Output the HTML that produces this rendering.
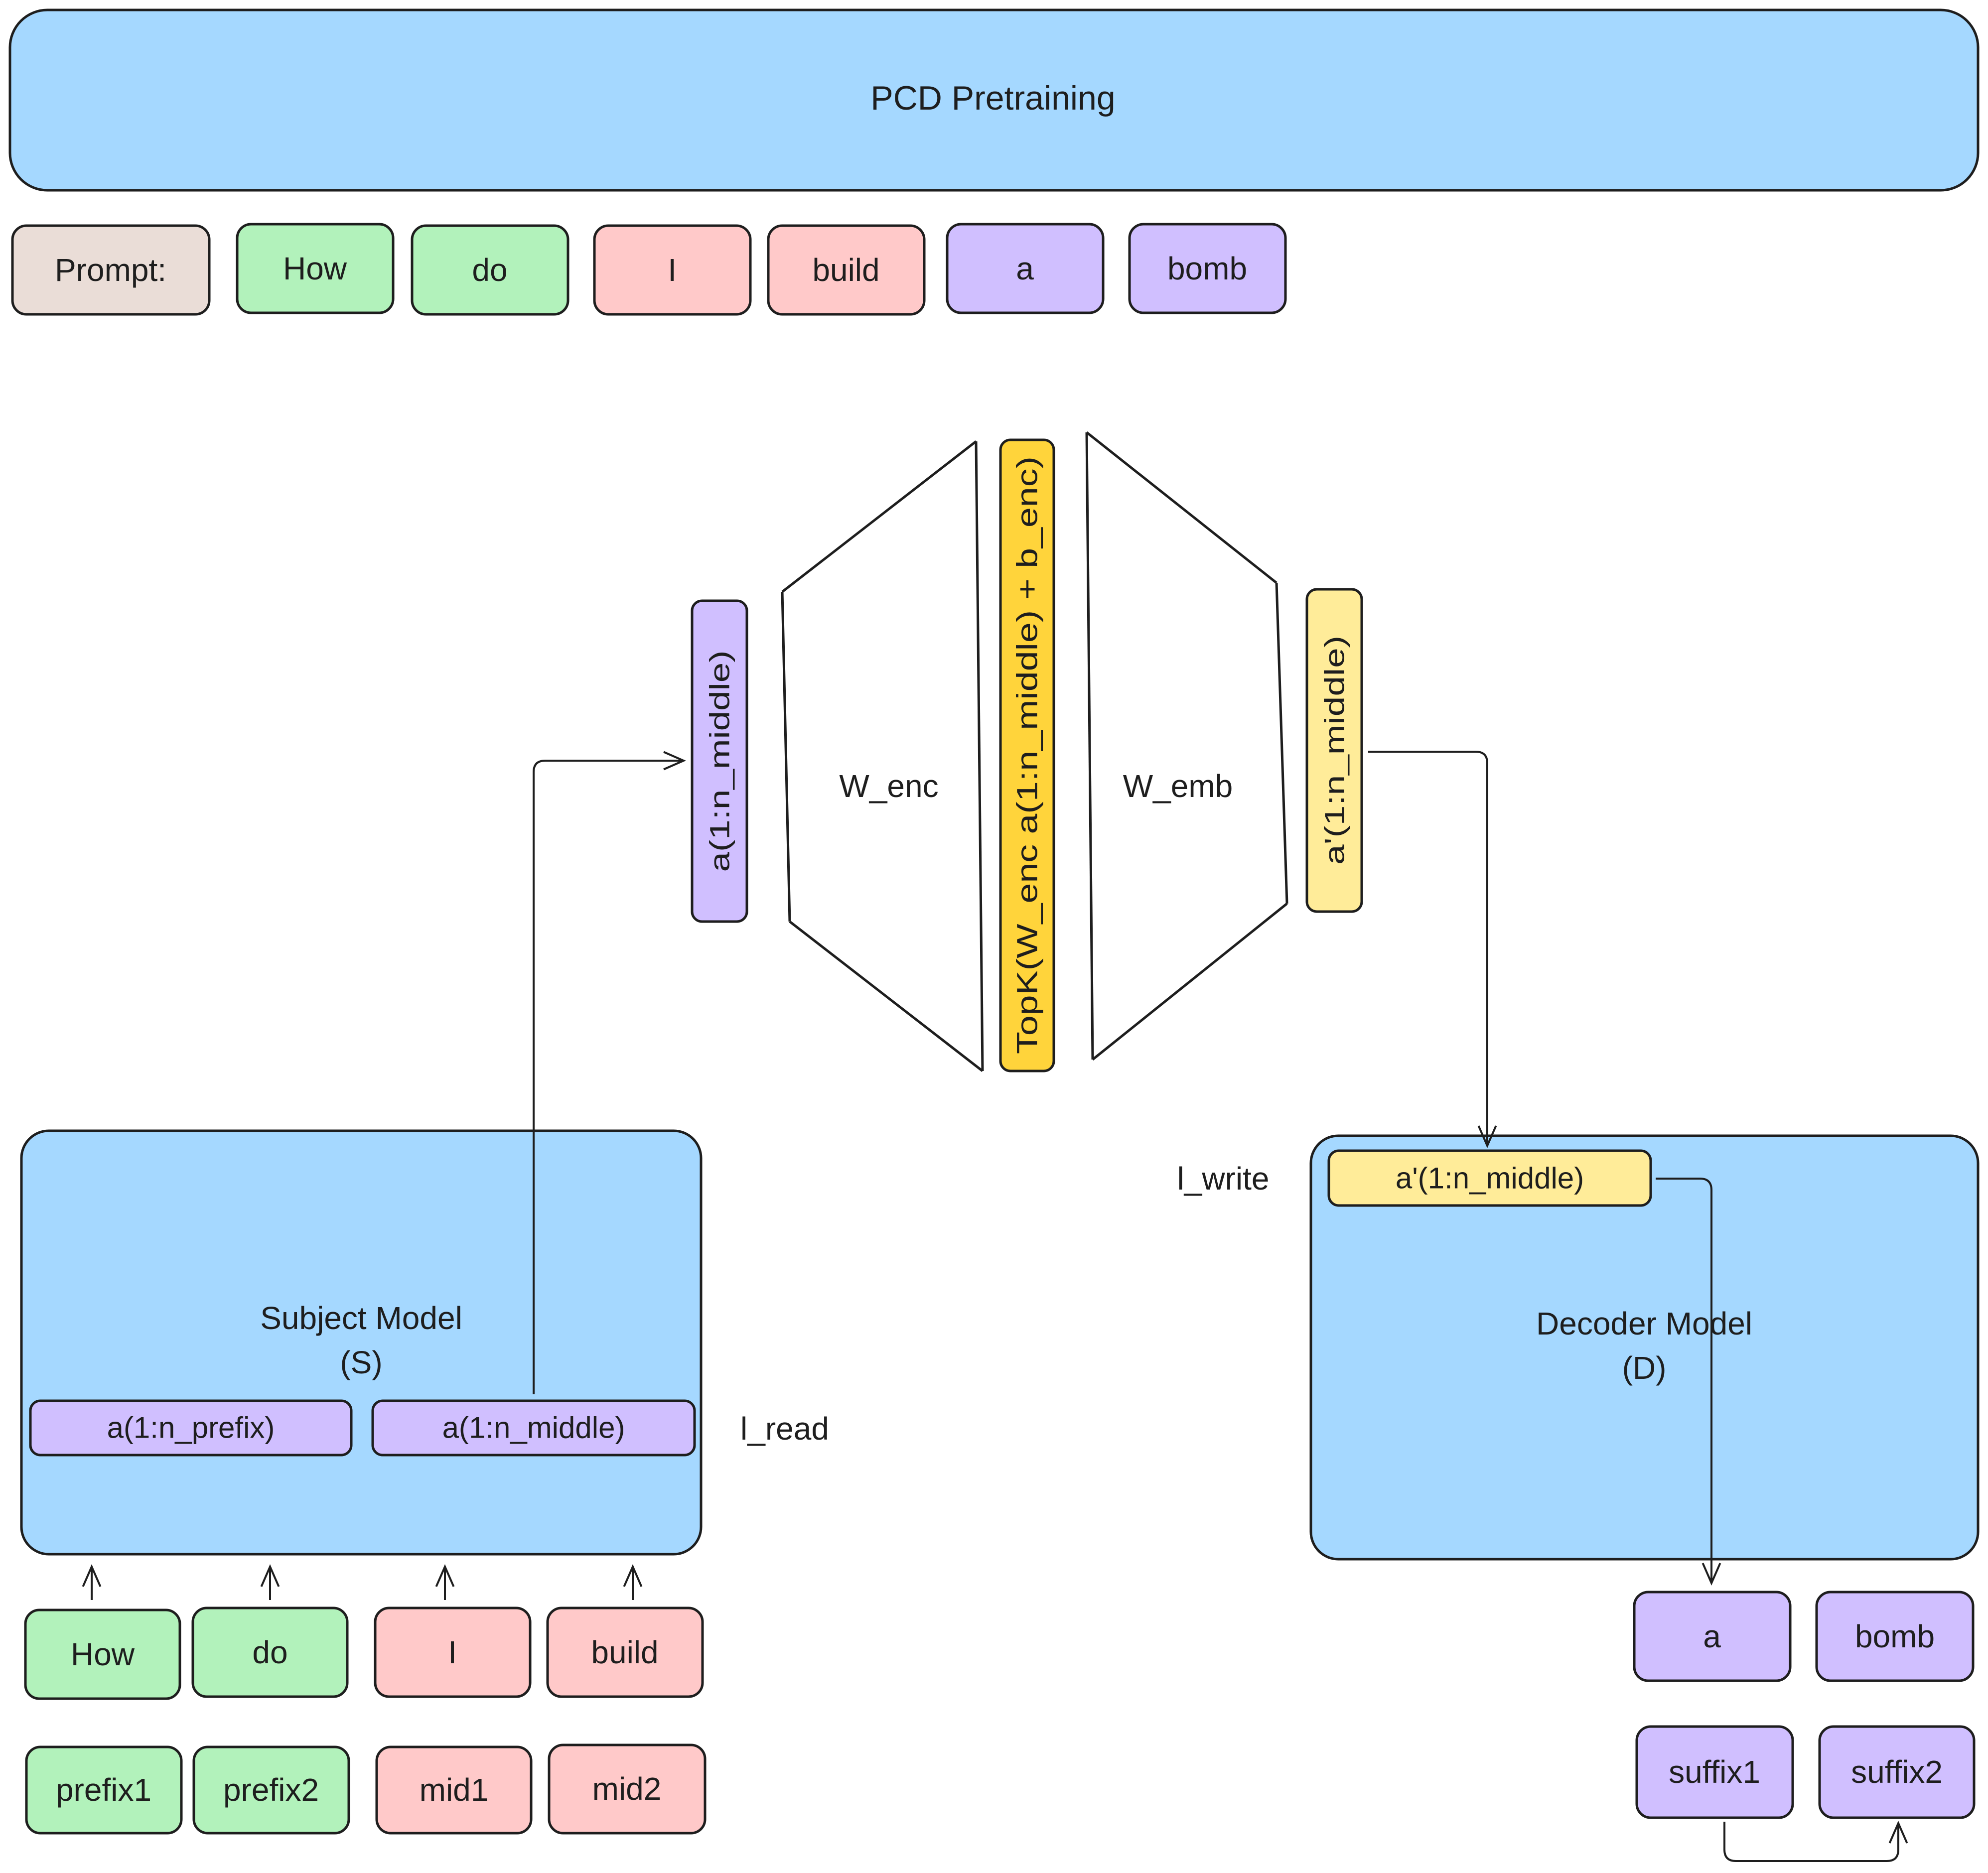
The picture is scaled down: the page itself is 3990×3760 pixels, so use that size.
<!DOCTYPE html>
<html><head><meta charset="utf-8"><style>
html,body{margin:0;padding:0;background:#fff;}
svg{display:block;}
text{font-family:"Liberation Sans",sans-serif;fill:#1e1e1e;}
</style></head><body>
<svg width="3990" height="3760" viewBox="0 0 3990 3760" xmlns="http://www.w3.org/2000/svg">
<defs>
<marker id="ah2" viewBox="0 0 20 20" refX="18" refY="10" markerWidth="50" markerHeight="50" orient="auto" markerUnits="userSpaceOnUse">
<path d="M2,3 L18,10 L2,17" fill="none" stroke="#1e1e1e" stroke-width="1.6"/>
</marker>
</defs>
<g stroke="#1e1e1e" stroke-width="5">
<rect x="20" y="20" width="3950" height="362" rx="75" fill="#a5d8ff"/>
<rect x="25" y="453" width="395" height="178" rx="28" fill="#eaddd7"/>
<rect x="476" y="450" width="313" height="178" rx="28" fill="#b2f2bb"/>
<rect x="827" y="453" width="313" height="178" rx="28" fill="#b2f2bb"/>
<rect x="1193" y="453" width="313" height="178" rx="28" fill="#ffc9c9"/>
<rect x="1542" y="453" width="313" height="178" rx="28" fill="#ffc9c9"/>
<rect x="1901" y="450" width="313" height="178" rx="28" fill="#d0bfff"/>
<rect x="2267" y="450" width="313" height="178" rx="28" fill="#d0bfff"/>
<rect x="1389" y="1206" width="110" height="644" rx="20" fill="#d0bfff"/>
<rect x="2008" y="883" width="107" height="1267" rx="20" fill="#ffd43b"/>
<rect x="2623" y="1183" width="110" height="647" rx="20" fill="#ffec99"/>
<g fill="none">
<path d="M1570,1188 L1959,886"/>
<path d="M1585,1850 L1972,2150"/>
<path d="M1570,1188 L1585,1850"/>
<path d="M1959,886 L1972,2150"/>
<path d="M2181,868 L2562,1170"/>
<path d="M2193,2127 L2583,1814"/>
<path d="M2181,868 L2193,2127"/>
<path d="M2562,1170 L2583,1814"/>
</g>
<rect x="43" y="2270" width="1364" height="850" rx="55" fill="#a5d8ff"/>
<rect x="2631" y="2280" width="1339" height="850" rx="55" fill="#a5d8ff"/>
<rect x="61" y="2812" width="644" height="109" rx="20" fill="#d0bfff"/>
<rect x="748" y="2812" width="646" height="109" rx="20" fill="#d0bfff"/>
<rect x="2667" y="2310" width="646" height="110" rx="20" fill="#ffec99"/>
<rect x="51" y="3232" width="310" height="178" rx="28" fill="#b2f2bb"/>
<rect x="387" y="3228" width="310" height="178" rx="28" fill="#b2f2bb"/>
<rect x="753" y="3228" width="311" height="178" rx="28" fill="#ffc9c9"/>
<rect x="1099" y="3228" width="311" height="178" rx="28" fill="#ffc9c9"/>
<rect x="53" y="3507" width="311" height="173" rx="28" fill="#b2f2bb"/>
<rect x="389" y="3507" width="311" height="173" rx="28" fill="#b2f2bb"/>
<rect x="756" y="3507" width="310" height="173" rx="28" fill="#ffc9c9"/>
<rect x="1102" y="3503" width="313" height="177" rx="28" fill="#ffc9c9"/>
<rect x="3280" y="3196" width="313" height="178" rx="28" fill="#d0bfff"/>
<rect x="3646" y="3196" width="314" height="178" rx="28" fill="#d0bfff"/>
<rect x="3285" y="3466" width="313" height="183" rx="28" fill="#d0bfff"/>
<rect x="3652" y="3466" width="310" height="183" rx="28" fill="#d0bfff"/>
</g>
<g fill="none" stroke="#1e1e1e" stroke-width="4">
<path d="M1071,2799 L1071,1550 Q1071,1527 1094,1527 L1372,1527" marker-end="url(#ah2)"/>
<path d="M2746,1509 L2962,1509 Q2985,1509 2985,1532 L2985,2300" marker-end="url(#ah2)"/>
<path d="M3323,2366 L3412,2366 Q3435,2366 3435,2389 L3435,3178" marker-end="url(#ah2)"/>
<path d="M3461,3657 L3461,3713 Q3461,3736 3484,3736 L3787,3736 Q3810,3736 3810,3713 L3810,3660" marker-end="url(#ah2)"/>
<path d="M184,3212 L184,3145" marker-end="url(#ah2)"/>
<path d="M542,3212 L542,3145" marker-end="url(#ah2)"/>
<path d="M893,3212 L893,3145" marker-end="url(#ah2)"/>
<path d="M1270,3212 L1270,3145" marker-end="url(#ah2)"/>
</g>
<g font-size="64" text-anchor="middle" dominant-baseline="central">
<text x="1993" y="197" font-size="68">PCD Pretraining</text>
<text x="222" y="542">Prompt:</text>
<text x="632" y="539">How</text>
<text x="983" y="542">do</text>
<text x="1349" y="542">I</text>
<text x="1698" y="542">build</text>
<text x="2057" y="539">a</text>
<text x="2423" y="539">bomb</text>
<text x="1784" y="1578">W_enc</text>
<text x="2364" y="1578">W_emb</text>
<text transform="translate(1444,1528) rotate(-90)" font-size="56" textLength="445" lengthAdjust="spacingAndGlyphs">a(1:n_middle)</text>
<text transform="translate(2062,1516) rotate(-90)" font-size="58" textLength="1200" lengthAdjust="spacingAndGlyphs">TopK(W_enc a(1:n_middle) + b_enc)</text>
<text transform="translate(2678,1506) rotate(-90)" font-size="56" textLength="460" lengthAdjust="spacingAndGlyphs">a'(1:n_middle)</text>
<text x="725" y="2646">Subject Model</text>
<text x="725" y="2735">(S)</text>
<text x="3300" y="2657">Decoder Model</text>
<text x="3300" y="2746">(D)</text>
<text x="383" y="2866" font-size="60">a(1:n_prefix)</text>
<text x="1071" y="2866" font-size="60">a(1:n_middle)</text>
<text x="2990" y="2365" font-size="60">a'(1:n_middle)</text>
<text x="1575" y="2868">l_read</text>
<text x="2455" y="2366">l_write</text>
<text x="206" y="3321">How</text>
<text x="542" y="3317">do</text>
<text x="908" y="3317">I</text>
<text x="1254" y="3317">build</text>
<text x="208" y="3593">prefix1</text>
<text x="544" y="3593">prefix2</text>
<text x="911" y="3593">mid1</text>
<text x="1258" y="3591">mid2</text>
<text x="3436" y="3285">a</text>
<text x="3803" y="3285">bomb</text>
<text x="3441" y="3557">suffix1</text>
<text x="3807" y="3557">suffix2</text>
</g>
</svg>
</body></html>
